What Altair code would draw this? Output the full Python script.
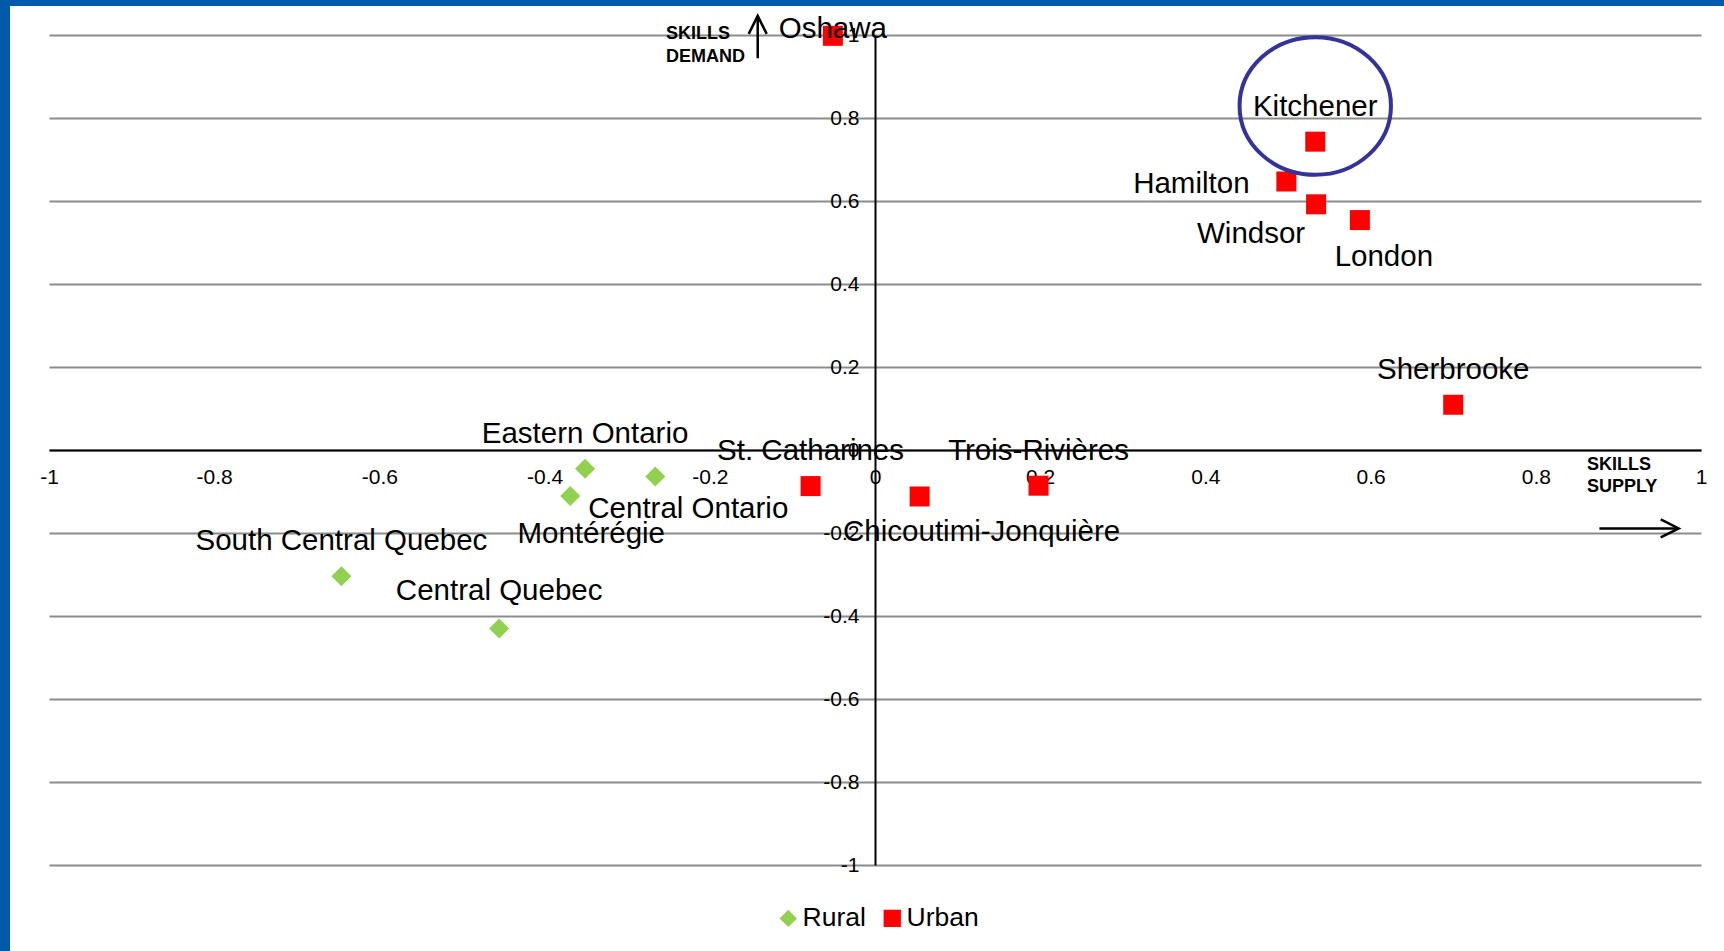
import altair as alt
import pandas as pd

# ---- data: skills supply (x) and skills demand (y) scores by region ----
urban_names = ["Oshawa", "Kitchener", "Hamilton", "Windsor", "London", "Sherbrooke",
               "St. Catharines", "Trois-Rivières", "Chicoutimi-Jonquière"]
urban_supply = [-0.051, 0.533, 0.498, 0.534, 0.587, 0.700, -0.078, 0.198, 0.054]
urban_demand = [0.998, 0.743, 0.647, 0.592, 0.554, 0.109, -0.087, -0.086, -0.112]

rural_names = ["Eastern Ontario", "Central Ontario", "Montérégie",
               "South Central Quebec", "Central Quebec"]
rural_supply = [-0.351, -0.266, -0.369, -0.646, -0.455]
rural_demand = [-0.045, -0.064, -0.111, -0.304, -0.430]

group_names = ["Rural", "Urban"]
group_colors = ["#92D050", "#FF0000"]
group_shapes = ["diamond", "square"]

tick_values = [-1, -0.8, -0.6, -0.4, -0.2, 0, 0.2, 0.4, 0.6, 0.8, 1]

# axis captions with their arrows (data coordinates)
demand_caption = ["SKILLS", "DEMAND"]
demand_caption_x = [-0.253, -0.253]
demand_caption_y = [0.990, 0.935]
demand_arrow_x = [-0.142]
demand_arrow_y = [0.944]
demand_arrow_y2 = [1.046]

supply_caption = ["SKILLS", "SUPPLY"]
supply_caption_x = [0.862, 0.862]
supply_caption_y = [-0.047, -0.101]
supply_arrow_x = [0.877]
supply_arrow_x2 = [0.973]
supply_arrow_y = [-0.189]

# ring drawn around the Kitchener label
highlight_x = [0.533]
highlight_y = [0.829]

# label placement around each marker (pixels)
label_offsets = {
    "Oshawa": (0, -7),
    "Kitchener": (0, -35),
    "Hamilton": (-95, 3),
    "Windsor": (-65, 30),
    "London": (24, 37),
    "Sherbrooke": (0, -35),
    "St. Catharines": (0, -35),
    "Trois-Rivières": (0, -35),
    "Chicoutimi-Jonquière": (62, 36),
    "Eastern Ontario": (0, -35),
    "Central Ontario": (33, 32),
    "Montérégie": (21, 38),
    "South Central Quebec": (0, -35),
    "Central Quebec": (0, -37),
}

FONT = "Liberation Sans"
W, H = 1652, 830

points = pd.DataFrame({
    "name": urban_names + rural_names,
    "x": urban_supply + rural_supply,
    "y": urban_demand + rural_demand,
    "group": ["Urban"] * len(urban_names) + ["Rural"] * len(rural_names),
})

x_scale = alt.Scale(domain=[-1, 1], nice=False, zero=False)
y_scale = alt.Scale(domain=[-1, 1], nice=False, zero=False)

label_expr = "(datum.value < 0 ? '-' : '') + format(abs(datum.value), '.1~f')"

x_axis = alt.Axis(
    orient="bottom", offset=-H / 2, values=tick_values, grid=False, ticks=False,
    domainColor="black", domainWidth=2, labelFont=FONT, labelFontSize=21,
    labelColor="black", labelPadding=16, labelFlush=False, labelOverlap=False,
    labelExpr=label_expr, title=None, zindex=0,
)
y_axis = alt.Axis(
    orient="left", offset=-W / 2, values=tick_values, grid=True, gridColor="#8c8c8c",
    gridWidth=2, ticks=False, domainColor="black", domainWidth=2, labelFont=FONT,
    labelFontSize=21, labelColor="black", labelPadding=16, labelOverlap=False,
    labelExpr=label_expr, title=None, zindex=0,
)


def xenc(field="x"):
    return alt.X(f"{field}:Q", scale=x_scale, axis=x_axis)


def yenc(field="y"):
    return alt.Y(f"{field}:Q", scale=y_scale, axis=y_axis)


legend = alt.Legend(
    title=None, orient="none", legendX=726, legendY=870, direction="horizontal",
    labelFont=FONT, labelFontSize=26.5, labelColor="black", symbolSize=300,
    symbolStrokeWidth=0, labelOffset=1, columnPadding=13,
)

markers = alt.Chart(points).mark_point(filled=True, size=400, opacity=1, strokeWidth=0).encode(
    x=xenc(), y=yenc(),
    color=alt.Color("group:N", scale=alt.Scale(domain=group_names, range=group_colors), legend=legend),
    shape=alt.Shape("group:N", scale=alt.Scale(domain=group_names, range=group_shapes), legend=legend),
)

labels = []
for name, (dx, dy) in label_offsets.items():
    labels.append(
        alt.Chart(points[points["name"] == name]).mark_text(
            font=FONT, fontSize=29.5, color="black", align="center", baseline="middle",
            dx=dx, dy=dy,
        ).encode(x=xenc(), y=yenc(), text="name:N")
    )

demand_text = alt.Chart(pd.DataFrame({
    "t": demand_caption, "x": demand_caption_x, "y": demand_caption_y,
})).mark_text(font=FONT, fontSize=18, fontWeight="bold", color="black",
              align="left", baseline="alphabetic").encode(x=xenc(), y=yenc(), text="t:N")

supply_text = alt.Chart(pd.DataFrame({
    "t": supply_caption, "x": supply_caption_x, "y": supply_caption_y,
})).mark_text(font=FONT, fontSize=18, fontWeight="bold", color="black",
              align="left", baseline="alphabetic").encode(x=xenc(), y=yenc(), text="t:N")

demand_shaft = alt.Chart(pd.DataFrame({
    "x": demand_arrow_x, "y": demand_arrow_y, "y2": demand_arrow_y2,
})).mark_rule(color="black", strokeWidth=2.5).encode(x=xenc(), y=yenc(), y2="y2:Q")

demand_head = alt.Chart(pd.DataFrame({
    "x": demand_arrow_x, "y": demand_arrow_y2,
})).mark_point(shape="M -0.5 1 L 0 0 L 0.5 1", size=1296, filled=False,
               color="black", strokeWidth=2.5, opacity=1).encode(x=xenc(), y=yenc())

supply_shaft = alt.Chart(pd.DataFrame({
    "x": supply_arrow_x, "x2": supply_arrow_x2, "y": supply_arrow_y,
})).mark_rule(color="black", strokeWidth=2.5).encode(x=xenc(), x2="x2:Q", y=yenc())

supply_head = alt.Chart(pd.DataFrame({
    "x": supply_arrow_x2, "y": supply_arrow_y,
})).mark_point(shape="M -1 -0.5 L 0 0 L -1 0.5", size=1296, filled=False,
               color="black", strokeWidth=2.5, opacity=1).encode(x=xenc(), y=yenc())

ring = alt.Chart(pd.DataFrame({"x": highlight_x, "y": highlight_y})).mark_point(
    shape="M -1 0 A 1 0.909 0 1 0 1 0 A 1 0.909 0 1 0 -1 0 Z",
    size=22922, filled=False, color="#33339A", strokeWidth=4, opacity=1,
).encode(x=xenc(), y=yenc())

# slide frame: blue strips along the left and top edges
frame_df = pd.DataFrame({"edge": ["frame"]})
frame_left = alt.Chart(frame_df).mark_rule(color="#005AAA", strokeWidth=10).encode(
    x=alt.value(-44), y=alt.value(-35), y2=alt.value(951 - 35))
frame_top = alt.Chart(frame_df).mark_rule(color="#005AAA", strokeWidth=6).encode(
    x=alt.value(-49), x2=alt.value(1724 - 49), y=alt.value(-32))

chart = alt.layer(
    frame_left, frame_top, markers, ring, *labels,
    demand_shaft, demand_head, demand_text, supply_shaft, supply_head, supply_text,
).properties(
    width=W, height=H,
    autosize=alt.AutoSizeParams(type="none"),
    padding={"left": 49, "top": 35, "right": 1724 - 49 - W, "bottom": 951 - 35 - H},
    background="white",
).configure_view(stroke=None)

chart.save("out.html", embed_options={"renderer": "svg", "actions": False})
